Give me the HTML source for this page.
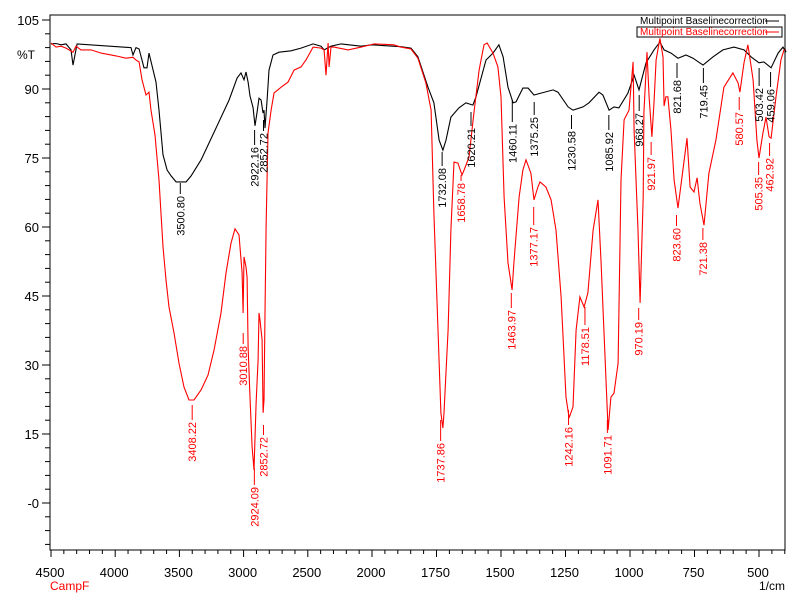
<!DOCTYPE html>
<html><head><meta charset="utf-8"><style>
html,body{margin:0;padding:0;background:#fff;}
svg{display:block;font-family:"Liberation Sans",Arial,sans-serif;}
</style></head><body>
<svg id="chart" width="793" height="595" viewBox="0 0 793 595" xmlns="http://www.w3.org/2000/svg">
<rect x="0" y="0" width="793" height="595" fill="#fff"/>
<g id="axes"></g>
<g id="series"></g>
<g id="labels"></g>
<rect x="50" y="15" width="735" height="535" fill="none" stroke="#000" stroke-width="1"/>
<g>
<text x="640" y="24" font-size="10" fill="#000">Multipoint Baselinecorrection</text>
<line x1="765" y1="21" x2="779" y2="21" stroke="#000"/>
<rect x="637" y="27" width="145" height="10" fill="none" stroke="#000"/>
<text x="640" y="35" font-size="10" fill="#f00">Multipoint Baselinecorrection</text>
<line x1="765" y1="32" x2="779" y2="32" stroke="#f00"/>
</g>
<text x="17" y="59" font-size="12">%T</text>
<text x="785" y="590" font-size="12" text-anchor="end">1/cm</text>
<text x="50" y="590" font-size="12" fill="#f00">CampF</text>
</svg>
<script>
const blackW=[4500,4461,4422,4383,4344,4329,4297,3877,3861,3838,3814,3776,3752,3737,3705,3682,3659,3628,3596,3565,3526,3448,3409,3331,3215,3113,3051,3020,2997,2981,2965,2950,2926,2911,2895,2880,2864,2849,2841,2833,2817,2802,2771,2724,2630,2553,2459,2397,2373,2319,2241,2085,2000,1888,1849,1822,1783,1760,1740,1725,1713,1694,1663,1636,1609,1597,1558,1531,1508,1492,1473,1453,1442,1415,1395,1372,1345,1298,1279,1240,1221,1182,1159,1120,1105,1081,1062,1043,1008,984,965,938,907,884,868,841,814,783,756,717,678,640,597,558,531,500,481,453,426,407,395];
const blackT=[99.8,99.9,99.6,99.8,98.5,95.2,99.8,99,97.4,99,98.7,94.6,94.6,97.8,94.1,91.5,85.4,75.7,72.4,71.1,69.8,69.8,71.1,74.6,81.5,87.6,92.4,93.5,92,93.7,91.5,88.5,85.9,82,85,88,87.6,84.8,85.4,81.5,87.6,94.1,97.4,98,98.3,98.9,99.8,99.3,98.5,99.3,99.8,99.3,99.6,99.2,98.9,97,90.4,87,78.9,76.7,78.9,83.9,85.9,87,86.5,88.3,96.3,97.8,99.6,97,90.4,87,87.2,90.2,90.2,88.7,89.1,89.8,89.3,86.1,85.4,86.1,87,89.3,88.7,85.4,86.1,85.9,89.1,93,89.8,95.7,98.5,100.2,98.5,97.8,96.7,97.4,96.7,95.2,97,98.5,99.1,98.5,97,95.7,95.9,94.6,97.8,99.1,98];
const redW=[4500,4461,4422,4383,4329,4305,4266,4188,4110,3994,3916,3861,3838,3814,3791,3760,3737,3721,3690,3659,3628,3604,3581,3542,3503,3464,3425,3386,3331,3277,3230,3176,3137,3098,3067,3036,3012,3004,2997,2981,2973,2965,2950,2934,2919,2903,2887,2880,2872,2856,2848,2841,2833,2825,2810,2786,2763,2708,2654,2607,2553,2514,2459,2397,2373,2358,2342,2334,2319,2296,2186,2085,1992,1915,1888,1849,1822,1791,1771,1760,1744,1733,1725,1721,1705,1694,1682,1667,1651,1643,1624,1605,1585,1566,1554,1531,1512,1500,1488,1473,1457,1450,1430,1415,1403,1384,1372,1357,1349,1326,1306,1287,1267,1248,1236,1221,1209,1194,1178,1163,1143,1124,1112,1101,1085,1074,1062,1046,1035,1023,1004,988,984,969,961,949,946,934,926,915,907,899,884,872,868,861,853,841,829,814,795,779,767,752,740,729,713,694,667,636,601,581,574,558,543,523,508,500,485,473,461,453,434,415,403,395];
const redT=[100,99.1,99.3,98.9,98,99.3,98.5,98.5,97.8,97.2,96.7,96.9,96.3,95.9,92,88.7,89.3,85.4,80,70.2,55.7,48.5,42.6,37,30.4,25.2,22.4,22.4,24.6,27.8,33.3,41.3,50,56.5,59.6,58.3,50,41.3,53.5,51.3,49,33.9,23,12.2,7.2,21.7,31.1,41.3,39.8,35.4,19.6,22.4,41.3,60,80.4,85.4,89.1,90.4,91.5,94.1,94.8,96.3,99.1,98.9,98.5,93,100,94.8,99.1,99.1,98.5,99.1,99.8,99.6,99.1,98.7,96.7,91.3,85.4,63,37.6,19.6,16.3,19.6,37.6,59.3,74.1,73.9,71.3,72.4,75.2,84.8,94.1,99.6,100,97.8,94.8,88.3,66.5,52.2,46.3,52.2,66.5,72.4,74.6,71.7,65.9,68.7,69.8,68.7,65.9,59.3,44.8,23,18.5,20.9,37.6,44.8,42.6,45.7,59.3,65.9,52.2,37.6,15.9,23,23.9,30.4,70.2,83.3,85.4,95.9,81,59.3,43.5,66.5,84.8,98,88.3,79.6,87,96.3,101,97,86.3,88.3,88.3,81,70.2,64.1,72.4,79.3,68.7,67.6,70.7,65.2,60.4,71.7,78.9,90.4,93.5,91.3,89.3,95.7,99.6,92,78.9,75,80.4,83.9,79.6,79.3,88.3,96.3,98.5,98.5];
const yTicks=[105,90,75,60,45,30,15,0];
const yTickLabels=["105","90","75","60","45","30","15","-0"];
const xTicks=[4500,4000,3500,3000,2500,2000,1750,1500,1250,1000,750,500];
const blackPeaks=["3500.80","2922.16","2852.72","1732.08","1620.21","1460.11","1375.25","1230.58","1085.92","968.27","821.68","719.45","503.42","459.06"];
const redPeaks=["3408.22","3010.88","2924.09","2852.72","1737.86","1658.78","1463.97","1377.17","1242.16","1178.51","1091.71","970.19","921.97","823.60","721.38","580.57","505.35","462.92"];
// label layout (line top, text top), pixel layout only
const blackLay=[[183,196],[130,147],[120,133],[152,168],[112,128],[100,124],[102,117],[115,131],[115,132],[95,113],[63,80],[68,85],[68,88],[72,89]];
const redLay=[[405,422],[333,346],[468,487],[425,437],[420,443],[175,183],[293,310],[207,227],[410,427],[307,327],[420,435],[308,322],[142,157],[215,228],[228,242],[97,112],[162,177],[143,158]];

const NS="http://www.w3.org/2000/svg";
function xs(w){return w>=2000?51+(4500-w)*0.1284:372+(2000-w)*0.258;}
function ys(v){return 503-4.6*v;}
function mk(tag,attrs,parent){const e=document.createElementNS(NS,tag);for(const k in attrs)e.setAttribute(k,attrs[k]);parent.appendChild(e);return e;}
const axes=document.getElementById('axes');
// y ticks
for(let v=-9;v<=105;v+=3){
  const major=yTicks.includes(v);
  const t=mk('line',{x1:50,x2:major?42:45,y1:ys(v),y2:ys(v),stroke:'#000'},axes);
  
  
}
yTicks.forEach((v,i)=>{
  const t=mk('text',{x:39,y:ys(v)+5,'font-size':13,'text-anchor':'end'},axes);
  t.textContent=yTickLabels[i];
  
  
});
// x ticks
for(let w=4500;w>=2000;w-=100){
  const major=w%500===0;
  const t=mk('line',{x1:xs(w),x2:xs(w),y1:550,y2:major?557:554,stroke:'#000'},axes);
  
  
}
for(let w=1950;w>=400;w-=50){
  const major=w%250===0;
  const t=mk('line',{x1:xs(w),x2:xs(w),y1:550,y2:major?557:554,stroke:'#000'},axes);
  
  
}
xTicks.forEach(w=>{
  const t=mk('text',{x:xs(w)-1,y:577,'font-size':13,'text-anchor':'middle'},axes);
  t.textContent=String(w);
  
  
});
// series
const sg=document.getElementById('series');
function path(W,T,color,name){
  let d='';W.forEach((w,i)=>{d+=(i?'L':'M')+xs(w).toFixed(1)+' '+ys(T[i]).toFixed(1);});
  const p=mk('path',{d:d,fill:'none',stroke:color,'stroke-width':1.1},sg);
  
  
}
path(blackW,blackT,'#000','black-spectrum-line');
path(redW,redT,'#f00','red-spectrum-line');
// peak labels
const lg=document.getElementById('labels');
function labels(P,L,color,name){
  P.forEach((s,i)=>{
    const x=xs(parseFloat(s))+1,lt=L[i][0],tt=L[i][1];
    const l=mk('line',{x1:x,x2:x,y1:lt,y2:tt-2,stroke:color},lg);
    
    
    const t=mk('text',{x:x+4,y:tt,'font-size':11,fill:color,'text-anchor':'end',transform:'rotate(-90 '+(x+4)+' '+tt+')'},lg);
    t.textContent=s;
    
    
  });
}
labels(blackPeaks,blackLay,'#000','black-peak-label');
labels(redPeaks,redLay,'#f00','red-peak-label');
</script>
</body></html>
